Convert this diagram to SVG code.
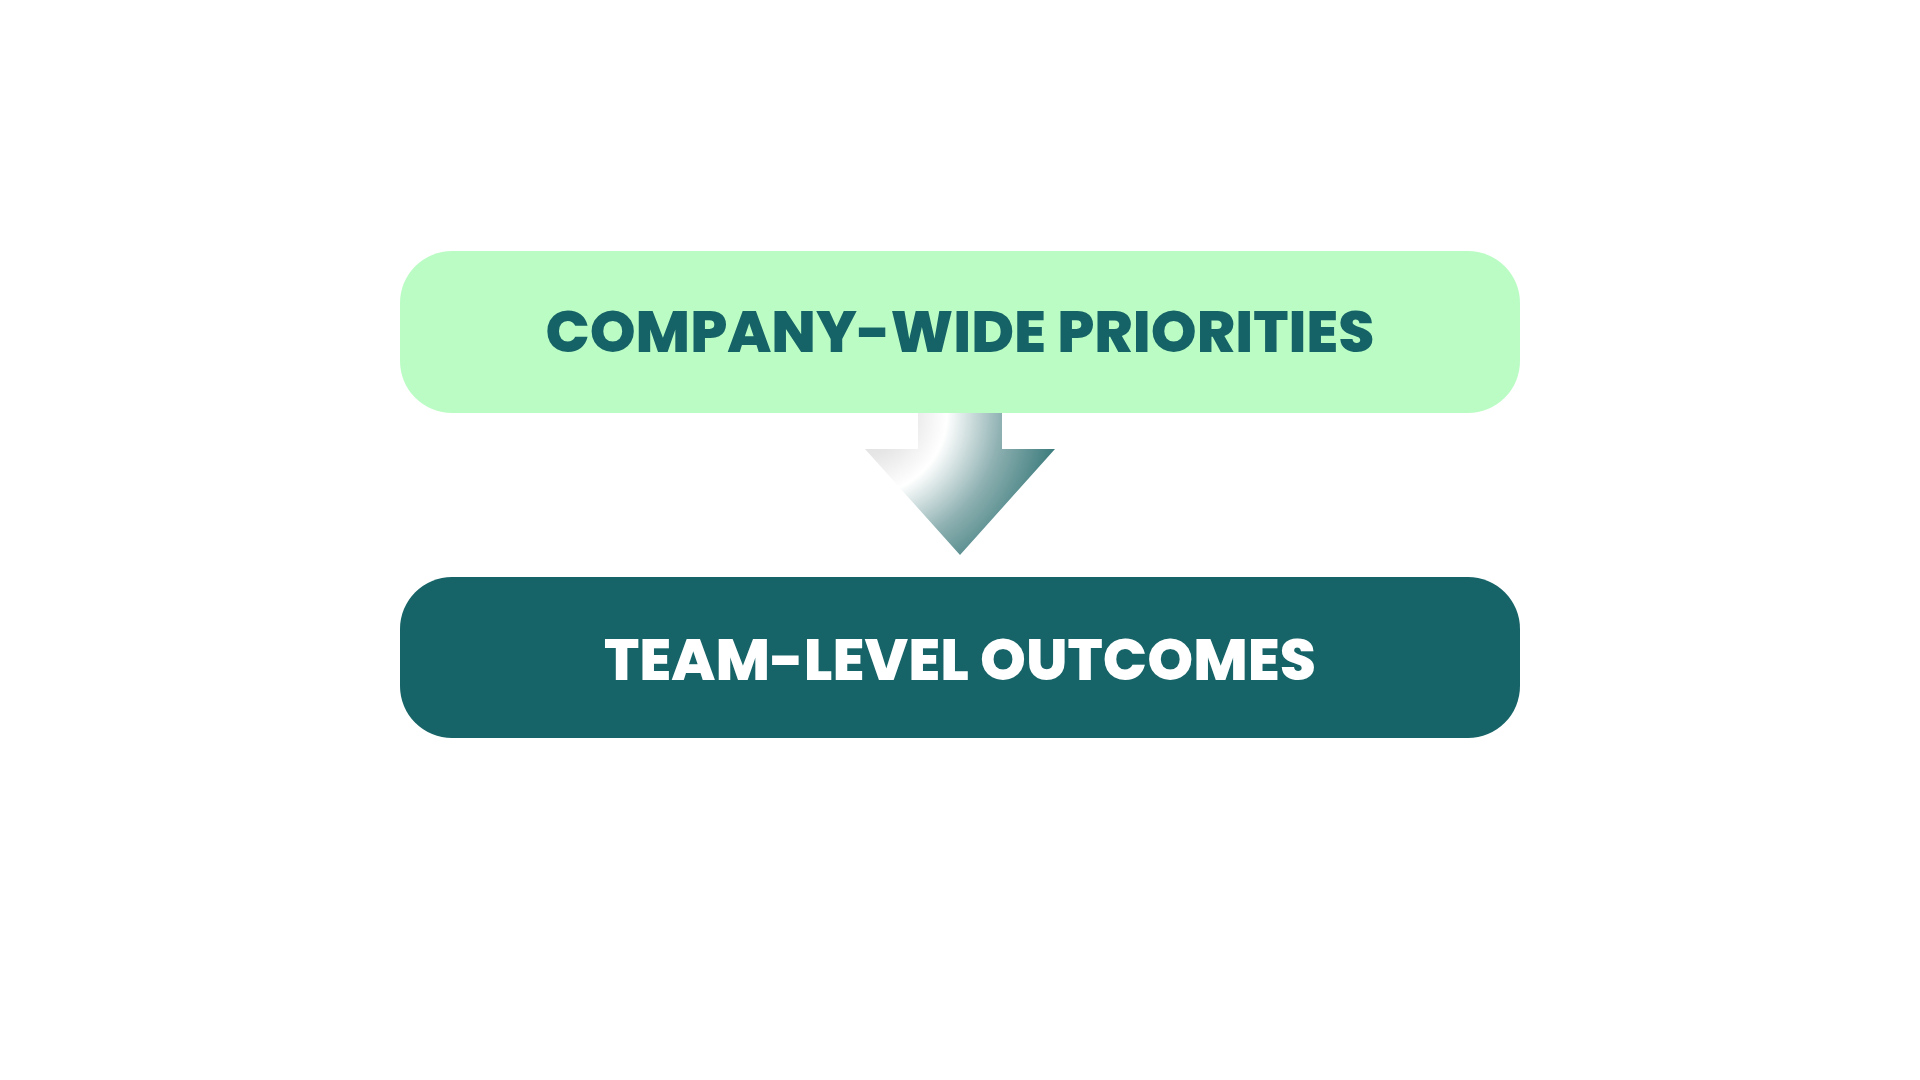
<svg xmlns="http://www.w3.org/2000/svg" width="1920" height="1080" viewBox="0 0 1920 1080">
  <style>
    .lbl { font-family: "Poppins", "Inter", "Liberation Sans", sans-serif; font-weight: 800; font-size: 58px; text-anchor: middle; }
  </style>
  <defs>
    <radialGradient id="arrowGrad" gradientUnits="userSpaceOnUse" cx="865" cy="413" r="195">
      <stop offset="0" stop-color="#d8d8d8"/>
      <stop offset="0.22" stop-color="#e6e6e6"/>
      <stop offset="0.42" stop-color="#ffffff"/>
      <stop offset="0.7" stop-color="#8fb1b2"/>
      <stop offset="1" stop-color="#3a7a7b"/>
    </radialGradient>
  </defs>
  <rect width="1920" height="1080" fill="#ffffff"/>
  <g id="connectors">
    <polygon points="918,412 1002,412 1002,449 1055,449 960,555 865,449 918,449" fill="url(#arrowGrad)"/>
  </g>
  <g id="node-company">
    <rect x="400" y="251" width="1120" height="162" rx="52" ry="52" fill="#bbfcc5"/>
    <text class="lbl" x="960" y="352" fill="#156367" textLength="829" lengthAdjust="spacingAndGlyphs">COMPANY-WIDE PRIORITIES</text>
  </g>
  <g id="node-team">
    <rect x="400" y="577" width="1120" height="161" rx="52" ry="52" fill="#166468"/>
    <text class="lbl" x="960" y="680" fill="#ffffff" textLength="712" lengthAdjust="spacingAndGlyphs">TEAM-LEVEL OUTCOMES</text>
  </g>
</svg>
